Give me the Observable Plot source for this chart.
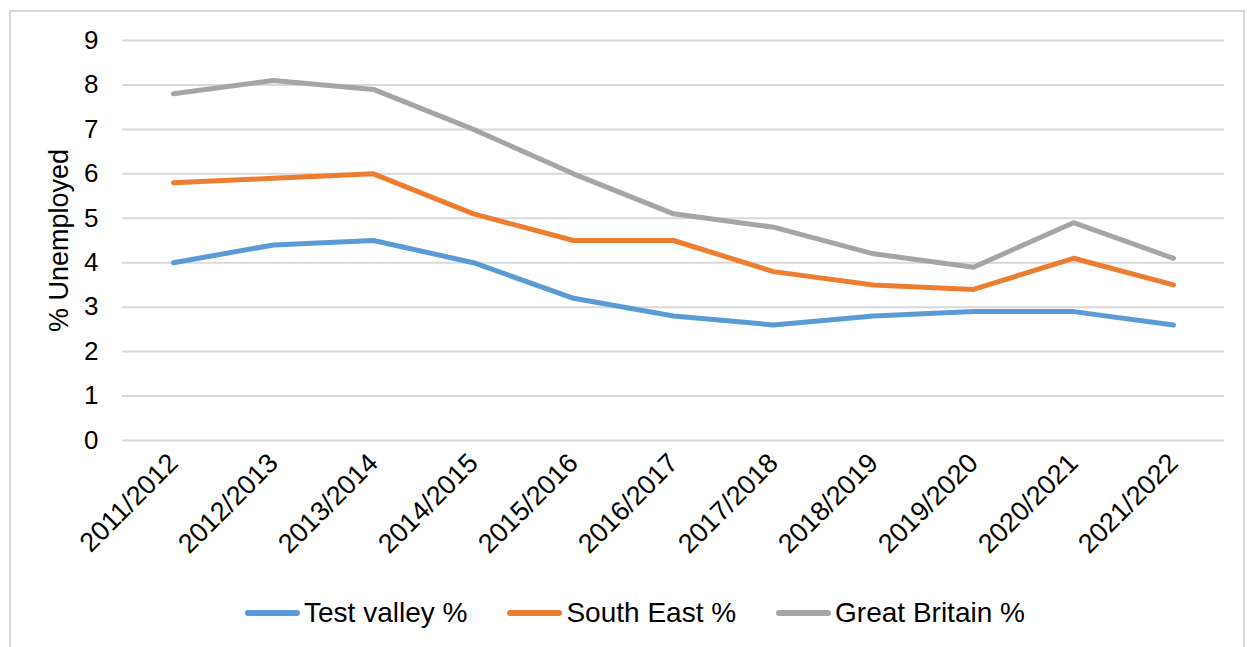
<!DOCTYPE html>
<html>
<head>
<meta charset="utf-8">
<script src="https://cdn.jsdelivr.net/npm/d3@7"></script>
<script src="https://cdn.jsdelivr.net/npm/@observablehq/plot@0.6"></script>
<style>
  body { margin: 0; background: #fff; font-family: "Liberation Sans", Arial, sans-serif; }
  #wrap { position: relative; width: 1247px; height: 647px; overflow: hidden; }
  #border { position: absolute; left: 9px; top: 10px; width: 1236px; height: 660px; border: 2px solid #d9d9d9; box-sizing: border-box; }
  #chart { position: absolute; left: 0; top: 0; }
  #legend { position: absolute; left: 0; top: 596px; width: 1270px; display: flex; justify-content: center; gap: 40px; font-size: 28px; line-height: 34px; color: #000; }
  .item { display: flex; align-items: center; }
  .sw { width: 55px; height: 6px; border-radius: 3px; margin-right: 4px; }
</style>
</head>
<body>
<div id="wrap">
  <div id="border"></div>
  <div id="chart"></div>
  <div id="legend"></div>
</div>
<script>
const years = ["2011/2012","2012/2013","2013/2014","2014/2015","2015/2016","2016/2017","2017/2018","2018/2019","2019/2020","2020/2021","2021/2022"];
const testValley = [4.0, 4.4, 4.5, 4.0, 3.2, 2.8, 2.6, 2.8, 2.9, 2.9, 2.6];
const southEast = [5.8, 5.9, 6.0, 5.1, 4.5, 4.5, 3.8, 3.5, 3.4, 4.1, 3.5];
const greatBritain = [7.8, 8.1, 7.9, 7.0, 6.0, 5.1, 4.8, 4.2, 3.9, 4.9, 4.1];
const seriesNames = ["Test valley %", "South East %", "Great Britain %"];
const seriesColors = ["#5B9BD5", "#ED7D31", "#A5A5A5"];
const yTicks = [0,1,2,3,4,5,6,7,8,9];

const allSeries = [testValley, southEast, greatBritain];
const rows = [];
allSeries.forEach((vals, si) => vals.forEach((v, i) => rows.push({year: years[i], value: v, series: seriesNames[si]})));

const plot = Plot.plot({
  width: 1247,
  height: 590,
  marginLeft: 122,
  marginRight: 23,
  marginTop: 40,
  marginBottom: 150,
  style: { fontFamily: "Liberation Sans, Arial, sans-serif", fontSize: "26px", color: "#000", background: "transparent" },
  x: { type: "point", domain: years, padding: 0.5, label: null },
  y: { domain: [0, 9], ticks: yTicks, label: null },
  color: { domain: seriesNames, range: seriesColors },
  marks: [
    Plot.gridY(yTicks, { stroke: "#d9d9d9", strokeOpacity: 1, strokeWidth: 2 }),
    Plot.axisY(yTicks, { tickSize: 0, tickPadding: 24, fontSize: 26, label: null }),
    Plot.axisX({ tickSize: 0, tickRotate: -45, tickPadding: 18, fontSize: 27, label: null }),
    Plot.text(["% Unemployed"], { frameAnchor: "left", textAnchor: "middle", dx: -63, rotate: -90, fontSize: 27, fill: "#000" }),
    Plot.line(rows, { x: "year", y: "value", z: "series", stroke: "series", strokeWidth: 5, strokeLinecap: "round", strokeLinejoin: "round" })
  ]
});
document.getElementById("chart").appendChild(plot);

const legend = document.getElementById("legend");
seriesNames.forEach((n, i) => {
  const it = document.createElement("div");
  it.className = "item";
  const sw = document.createElement("div");
  sw.className = "sw";
  sw.style.background = seriesColors[i];
  const t = document.createElement("span");
  t.textContent = n;
  it.appendChild(sw); it.appendChild(t);
  legend.appendChild(it);
});
</script>
</body>
</html>
